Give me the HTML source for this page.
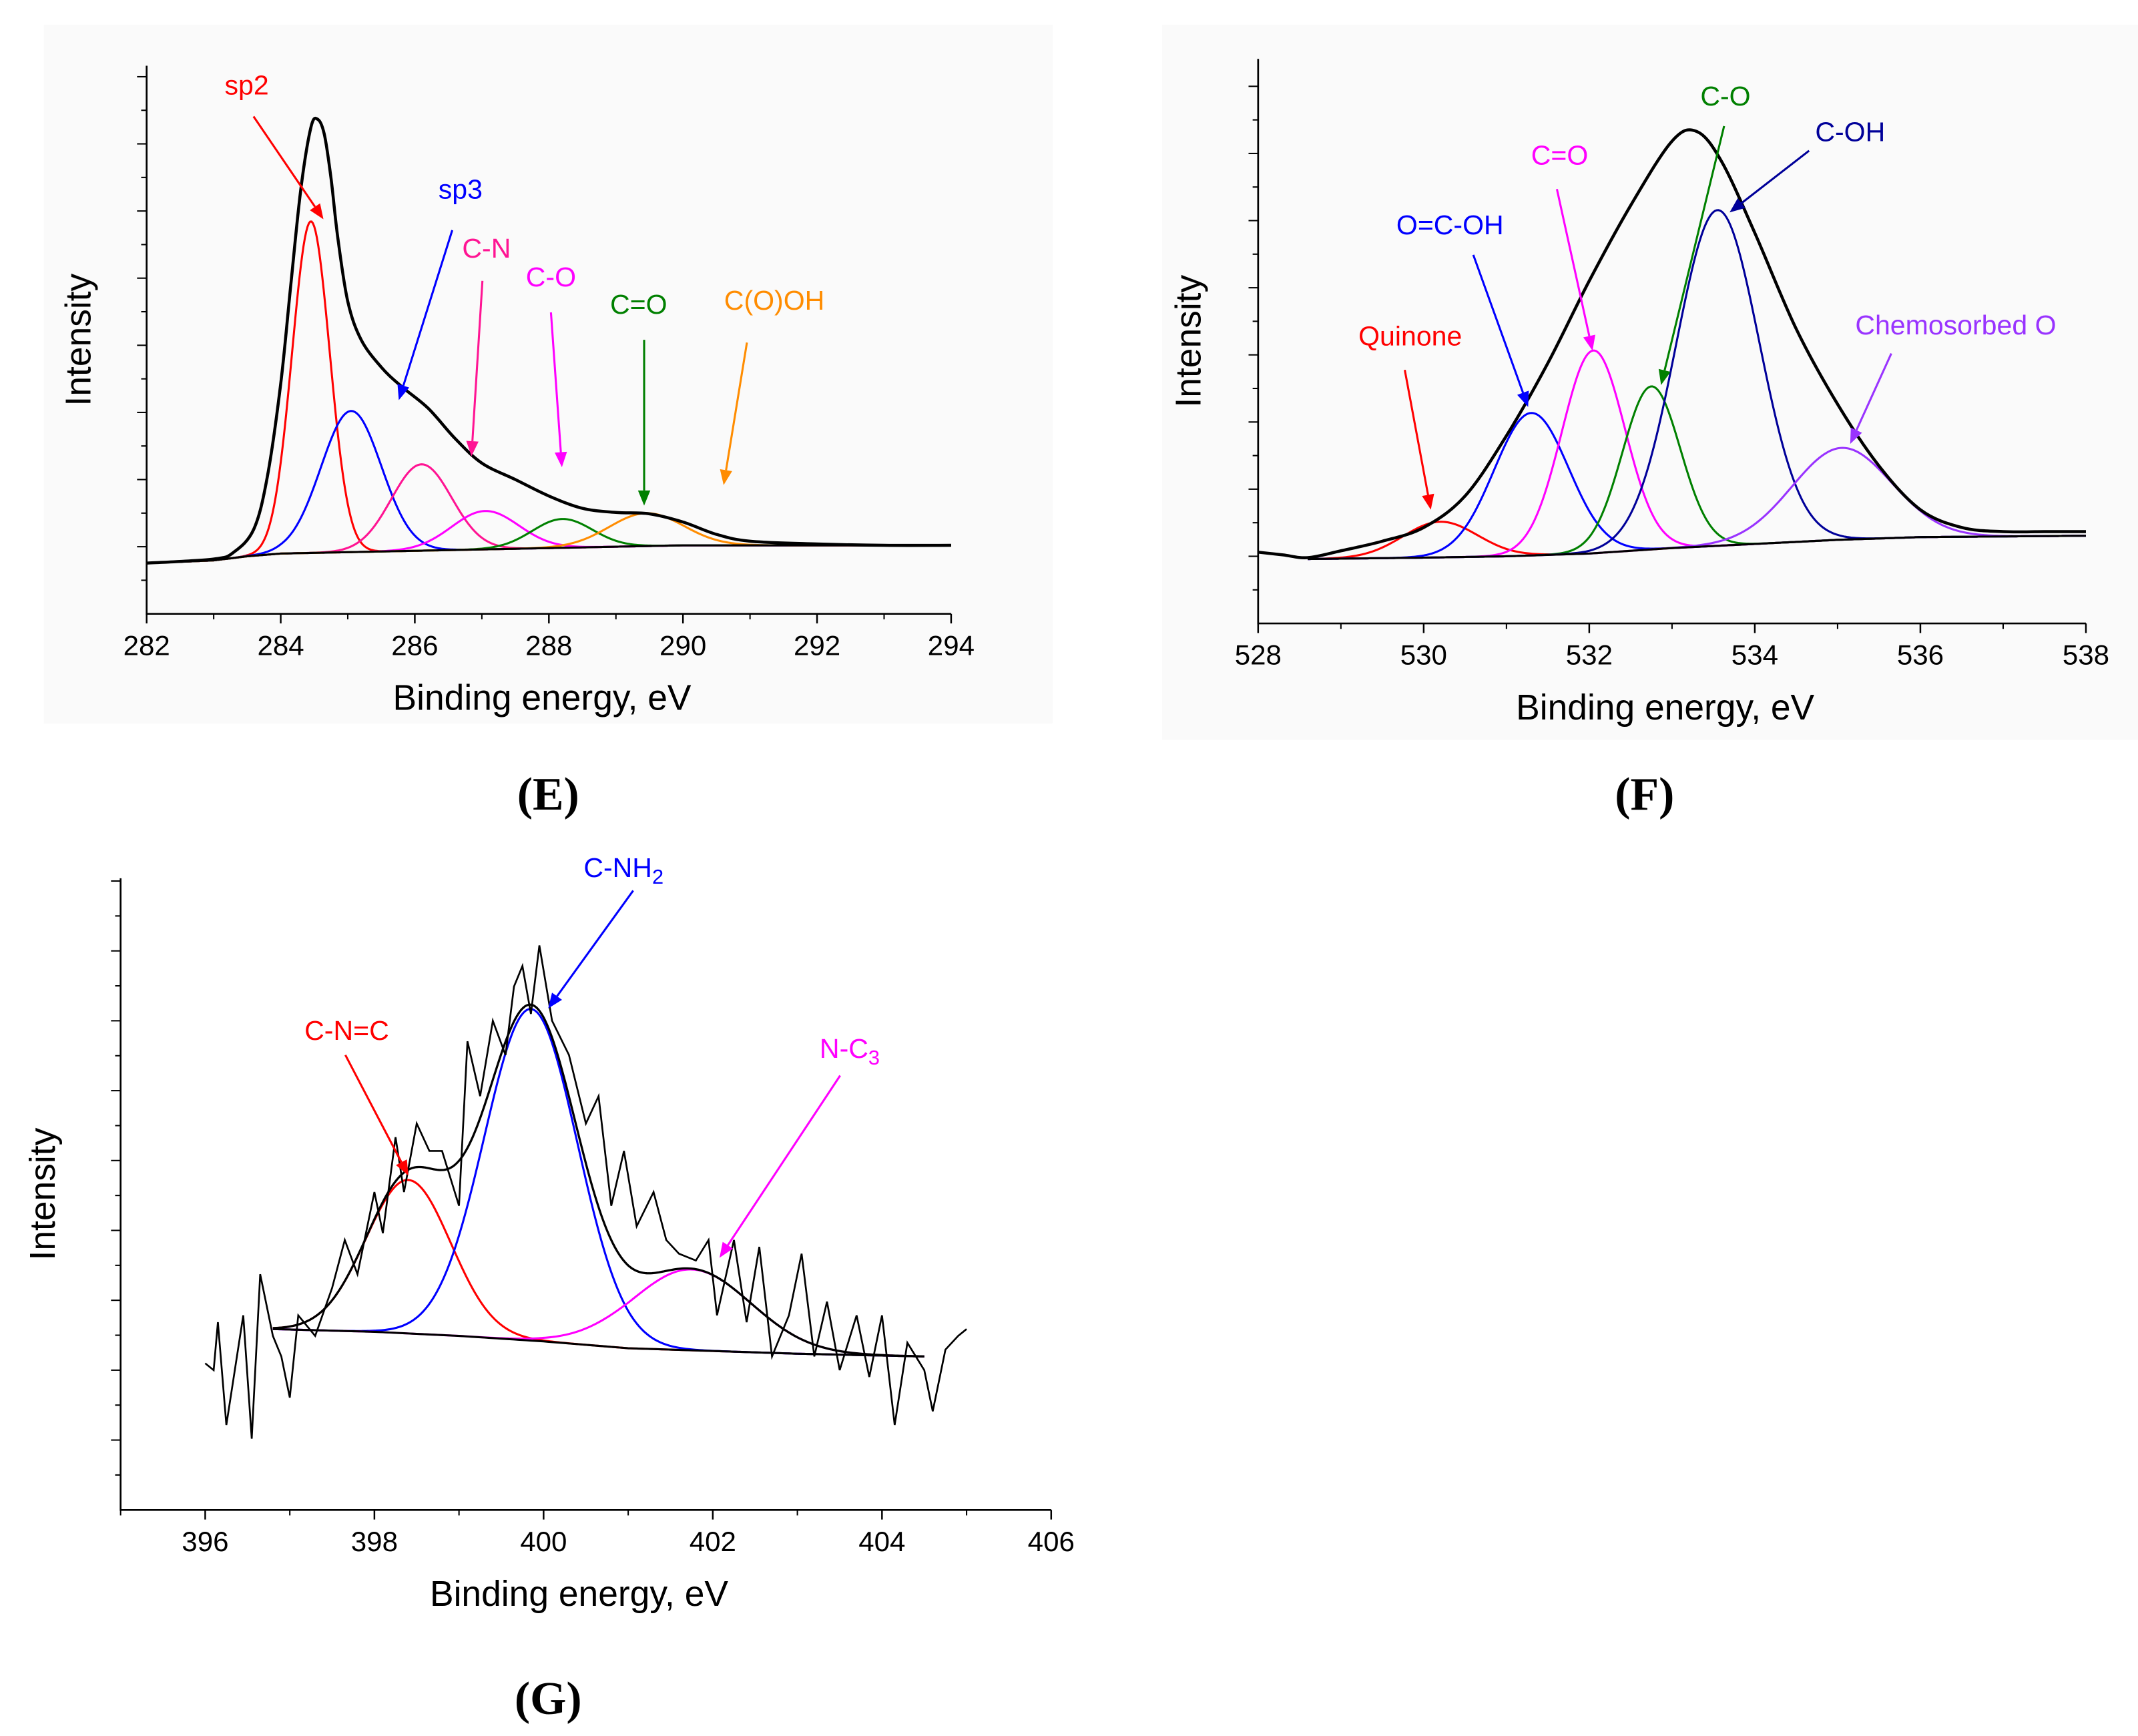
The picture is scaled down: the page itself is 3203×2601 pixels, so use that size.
<!DOCTYPE html>
<html><head><meta charset="utf-8"><style>
html,body{margin:0;padding:0;background:#fff}
svg{display:block}
text{font-family:"Liberation Sans",sans-serif}
text.pl{font-family:"Liberation Serif",serif;font-weight:bold}
</style></head><body>
<svg id="fig" width="3203" height="2601" viewBox="0 0 1560 1267" preserveAspectRatio="none" xmlns="http://www.w3.org/2000/svg">
<rect x="32" y="18" width="736" height="510" fill="#fafafa"/>
<rect x="848" y="18" width="712" height="522" fill="#fafafa"/>
<g id="pe"></g>
<g id="pf"></g>
<g id="pg"></g>
<text class="pl" x="400" y="591" text-anchor="middle" font-size="34">(E)</text>
<text class="pl" x="1200" y="591" text-anchor="middle" font-size="34">(F)</text>
<text class="pl" x="400" y="1251" text-anchor="middle" font-size="34">(G)</text>
</svg>
<script>
// ---------- Panel E data ----------
const eTicks = [282,284,286,288,290,292,294];
const eBaseX = [282,283,283.5,284,285,286,287,288,289,290,291,294];
const eBaseY = [37,39,42,44,45,46,47,48,49,50,50,50];
const eCompNames = ['sp2','sp3','C-N','C-O','C=O','C(O)OH'];
const eCompCenters = [284.45,285.05,286.1,287.05,288.2,289.45];
const eCompHeights = [242,103,63,28,21,24];
const eCompSigmas = [0.28,0.45,0.45,0.5,0.45,0.55];
const eCompColors = ['#ff0000','#0000ff','#ff1493','#ff00ff','#008000','#ff8c00'];
const eEnvX = [282,283,283.3,283.6,283.8,284.0,284.15,284.3,284.45,284.55,284.65,284.75,284.85,285.0,285.2,285.5,285.8,286.2,286.6,287.0,287.5,288,288.5,289,289.5,290,290.5,291,292,293,294];
const eEnvY = [37,40,45,62,100,168,240,310,355,361,350,318,275,228,200,180,166,150,128,110,98,86,77,74,73,67,58,53,51,50,50];

// ---------- Panel F data ----------
const fTicks = [528,530,532,534,536,538];
const fBaseX = [528.6,530,531,532,533,534,535,536,538];
const fBaseY = [47,48,49,51,55,58,61,63,64];
const fCompNames = ['Quinone','O=C-OH','C=O','C-O','C-OH','Chemosorbed O'];
const fCompCenters = [530.2,531.3,532.05,532.75,533.55,535.05];
const fCompHeights = [26,104,148,119,245,67];
const fCompSigmas = [0.45,0.45,0.38,0.35,0.5,0.6];
const fCompColors = ['#ff0000','#0000ff','#ff00ff','#008000','#000099','#9933ff'];
const fEnvX = [528,528.3,528.6,529,529.5,530,530.5,531,531.5,532,532.5,533,533.3,533.6,534,534.5,535,535.5,536,536.5,537,537.5,538];
const fEnvY = [52,50,48,53,60,70,93,137,190,250,305,352,359,337,285,215,160,115,83,70,67,67,67];

// ---------- Panel G data ----------
const gTicks = [396,398,400,402,404,406];
const gBaseX = [396.8,398,399,400,401,402,403,404.5];
const gBaseY = [132,130,127,123,118,116,114,112];
const gCompNames = ['C-N=C','C-NH2','N-C3'];
const gCompCenters = [398.4,399.85,401.75];
const gCompHeights = [112,242,59];
const gCompSigmas = [0.5,0.55,0.7];
const gCompColors = ['#ff0000','#0000ff','#ff00ff'];
const gDataX = [396.0,396.1,396.15,396.25,396.35,396.45,396.55,396.65,396.8,396.9,397.0,397.1,397.3,397.5,397.65,397.8,398.0,398.1,398.25,398.35,398.5,398.65,398.8,399.0,399.1,399.25,399.4,399.55,399.65,399.75,399.85,399.95,400.1,400.3,400.5,400.65,400.8,400.95,401.1,401.3,401.45,401.6,401.8,401.95,402.05,402.25,402.4,402.55,402.7,402.9,403.05,403.2,403.35,403.5,403.7,403.85,404.0,404.15,404.3,404.5,404.6,404.75,404.9,405.0];
const gDataY = [107,102,137,62,102,142,52,172,127,112,82,142,127,162,197,172,232,202,272,232,282,262,262,222,342,302,357,332,382,397,362,412,357,332,282,302,222,262,207,232,197,187,182,197,142,197,137,192,112,142,187,112,152,102,142,97,142,62,122,102,72,117,127,132];

const NS='http://www.w3.org/2000/svg';
function mk(parent,tag,attrs){const e=document.createElementNS(NS,tag);for(const k in attrs)e.setAttribute(k,attrs[k]);parent.appendChild(e);return e;}
function interp(xs,ys,x){if(x<=xs[0])return ys[0];for(let i=1;i<xs.length;i++){if(x<=xs[i]){const t=(x-xs[i-1])/(xs[i]-xs[i-1]);return ys[i-1]+t*(ys[i]-ys[i-1]);}}return ys[ys.length-1];}
function gauss(x,c,h,s){return h*Math.exp(-0.5*((x-c)/s)**2);}
function smoothPath(p){let d=`M${p[0][0]} ${p[0][1]}`;for(let i=0;i<p.length-1;i++){const p0=p[i-1]||p[i],p1=p[i],p2=p[i+1],p3=p[i+2]||p2;const c1=[p1[0]+(p2[0]-p0[0])/6,p1[1]+(p2[1]-p0[1])/6],c2=[p2[0]-(p3[0]-p1[0])/6,p2[1]-(p3[1]-p1[1])/6];d+=`C${c1[0].toFixed(2)} ${c1[1].toFixed(2)} ${c2[0].toFixed(2)} ${c2[1].toFixed(2)} ${p2[0].toFixed(2)} ${p2[1].toFixed(2)}`;}return d;}

function axes(g,cfg,prefix){
  const {x0,x1,y0,y1,dmin,dmax,ticks}=cfg;
  const ax=mk(g,'path',{d:`M${x0} ${y1}V${y0}H${x1}`,stroke:'#000','stroke-width':1.3,fill:'none'});
  
  
  const sx=v=>x0+(v-dmin)/(dmax-dmin)*(x1-x0);
  ticks.forEach((t,i)=>{
    mk(g,'line',{x1:sx(t),x2:sx(t),y1:y0,y2:y0+7,stroke:'#000','stroke-width':1.2});
    if(i<ticks.length-1){const m=sx(t+(ticks[1]-ticks[0])/2);mk(g,'line',{x1:m,x2:m,y1:y0,y2:y0+4,stroke:'#000','stroke-width':1});}
    const tx=mk(g,'text',{x:sx(t),y:y0+30,'text-anchor':'middle','font-size':20.5,fill:'#000'});
    tx.textContent=t;
    
    
  });
  if(ticks[0]>dmin){const m=sx(ticks[0]-(ticks[1]-ticks[0])/2);mk(g,'line',{x1:m,x2:m,y1:y0,y2:y0+4,stroke:'#000','stroke-width':1});}
  const step=cfg.ystep;let k=0;
  for(let y=y0-step/2;y>y1;y-=step/2){const major=k%2===1;mk(g,'line',{x1:x0-(major?7:4),x2:x0,y1:y,y2:y,stroke:'#000','stroke-width':1});k++;}
  const xt=mk(g,'text',{x:(x0+x1)/2-5,y:y0+70,'text-anchor':'middle','font-size':26});
  xt.textContent='Binding energy, eV';
  
  
  const yt=mk(g,'text',{x:0,y:0,'text-anchor':'middle','font-size':26,transform:`translate(${cfg.ylabX},${(y0+y1)/2}) rotate(-90)`});
  yt.textContent='Intensity';
  
  
  return sx;
}
function pathFrom(pts){return pts.map((p,i)=>(i?'L':'M')+p[0].toFixed(2)+' '+p[1].toFixed(2)).join('');}
function drawPanel(g,cfg,prefix,base,comps,env,envData){
  const sx=axes(g,cfg,prefix);
  const sy=v=>cfg.y0-v/cfg.vmax*(cfg.y0-cfg.y1);
  const bx0=base.x[0],bx1=base.x[base.x.length-1];
  comps.names.forEach((n,i)=>{
    const pts=[];
    for(let x=bx0;x<=bx1+1e-9;x+=0.02){pts.push([sx(x),sy(interp(base.x,base.y,x)+gauss(x,comps.c[i],comps.h[i],comps.s[i]))]);}
    const p=mk(g,'path',{d:pathFrom(pts),fill:'none',stroke:comps.col[i],'stroke-width':1.5});
    
    
  });
  const bp=[];for(let x=bx0;x<=bx1+1e-9;x+=0.05)bp.push([sx(x),sy(interp(base.x,base.y,x))]);
  const b=mk(g,'path',{d:pathFrom(bp),fill:'none',stroke:'#000','stroke-width':1.5});
  
  
  if(env){
    const e=mk(g,'path',{d:smoothPath(env.x.map((x,i)=>[sx(x),sy(env.y[i])])),fill:'none',stroke:'#000','stroke-width':2.2,'stroke-linejoin':'round'});
    
    
  } else {
    const pts=[];
    for(let x=bx0;x<=bx1+1e-9;x+=0.02){let v=interp(base.x,base.y,x);comps.c.forEach((c,i)=>v+=gauss(x,c,comps.h[i],comps.s[i]));pts.push([sx(x),sy(v)]);}
    const e=mk(g,'path',{d:pathFrom(pts),fill:'none',stroke:'#000','stroke-width':1.6});
    
    
  }
  if(envData){
    const d=mk(g,'path',{d:pathFrom(envData.x.map((x,i)=>[sx(x),sy(envData.y[i])])),fill:'none',stroke:'#000','stroke-width':1.3});
    
    
  }
}
function arrow(g,name,col,label,tx,ty,ax1,ay1,ax2,ay2,sub){
  const t=mk(g,'text',{x:tx,y:ty,'text-anchor':'middle','font-size':20,fill:col});
  t.textContent=label;
  if(sub){const s=mk(t,'tspan',{'font-size':15,dy:5});s.textContent=sub;}
  
  
  const ang=Math.atan2(ay2-ay1,ax2-ax1),L=11,W=4.5;
  const bx=ax2-L*Math.cos(ang),by=ay2-L*Math.sin(ang);
  const l=mk(g,'line',{x1:ax1,y1:ay1,x2:bx,y2:by,stroke:col,'stroke-width':1.5});
  
  
  mk(g,'polygon',{points:`${ax2},${ay2} ${bx-W*Math.sin(ang)},${by+W*Math.cos(ang)} ${bx+W*Math.sin(ang)},${by-W*Math.cos(ang)}`,fill:col});
}
const pe=document.getElementById('pe'),pf=document.getElementById('pf'),pg=document.getElementById('pg');
drawPanel(pe,{x0:107,x1:694,y0:448,y1:48,dmin:282,dmax:294,ticks:eTicks,vmax:400,ystep:49,ylabX:66},'panel-e',
  {x:eBaseX,y:eBaseY},{names:eCompNames,c:eCompCenters,h:eCompHeights,s:eCompSigmas,col:eCompColors},{x:eEnvX,y:eEnvY});
drawPanel(pf,{x0:918,x1:1522,y0:455,y1:43,dmin:528,dmax:538,ticks:fTicks,vmax:412,ystep:49,ylabX:876},'panel-f',
  {x:fBaseX,y:fBaseY},{names:fCompNames,c:fCompCenters,h:fCompHeights,s:fCompSigmas,col:fCompColors},{x:fEnvX,y:fEnvY});
drawPanel(pg,{x0:88,x1:767,y0:1102,y1:641,dmin:395,dmax:406,ticks:gTicks,vmax:461,ystep:51,ylabX:40},'panel-g',
  {x:gBaseX,y:gBaseY},{names:gCompNames,c:gCompCenters,h:gCompHeights,s:gCompSigmas,col:gCompColors},null,{x:gDataX,y:gDataY});
arrow(pe,'sp2','#ff0000','sp2',180,69,185,85,236,160);
arrow(pe,'sp3','#0000ff','sp3',336,145,330,168,291,292);
arrow(pe,'c-n','#ff1493','C-N',355,188,352,205,344,333);
arrow(pe,'c-o-e','#ff00ff','C-O',402,209,402,228,410,341);
arrow(pe,'c-double-o-e','#008000','C=O',466,229,470,248,470,369);
arrow(pe,'c-o-oh','#ff8c00','C(O)OH',565,226,545,250,528,354);
arrow(pf,'quinone','#ff0000','Quinone',1029,252,1025,270,1044,372);
arrow(pf,'o-c-oh','#0000ff','O=C-OH',1058,171,1075,186,1115,297);
arrow(pf,'c-double-o-f','#ff00ff','C=O',1138,120,1136,138,1162,256);
arrow(pf,'c-o-f','#008000','C-O',1259,77,1258,92,1212,281);
arrow(pf,'c-oh','#000099','C-OH',1350,103,1320,110,1262,155);
arrow(pf,'chemosorbed-o','#9933ff','Chemosorbed O',1427,244,1380,258,1350,324);
arrow(pg,'c-n-c','#ff0000','C-N=C',253,759,252,770,298,858);
arrow(pg,'c-nh2','#0000ff','C-NH',455,640,462,650,400,736,'2');
arrow(pg,'n-c3','#ff00ff','N-C',620,772,613,785,525,918,'3');
</script>
</body></html>
